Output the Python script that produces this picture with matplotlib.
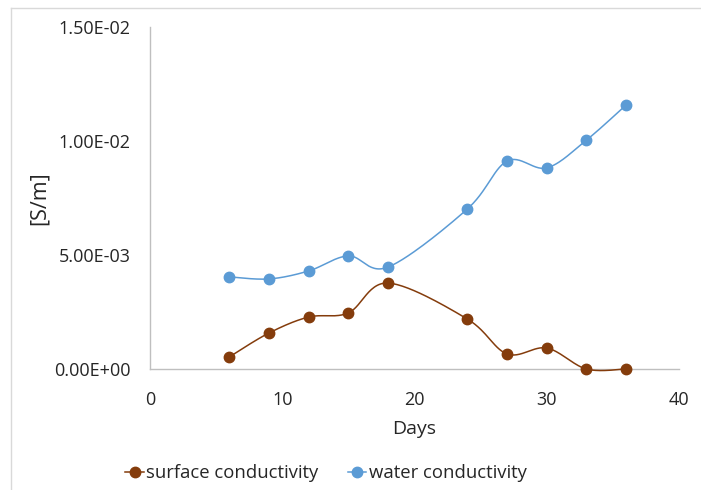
import numpy as np
import matplotlib
matplotlib.use("Agg")
import matplotlib.pyplot as plt
from matplotlib.lines import Line2D
from matplotlib.ticker import FixedLocator

days = [6, 9, 12, 15, 18, 24, 27, 30, 33, 36]
surface_conductivity = [0.00053, 0.00158, 0.00228, 0.00246, 0.00377, 0.00219, 0.00066, 0.00092, 0.0, 0.0]
water_conductivity = [0.00404, 0.00395, 0.00430, 0.00496, 0.00447, 0.00702, 0.00912, 0.00882, 0.01004, 0.01158]
x_ticks = [0, 10, 20, 30, 40]
y_ticks = [0.0, 0.005, 0.010, 0.015]
y_tick_labels = ["0.00E+00", "5.00E-03", "1.00E-02", "1.50E-02"]

plt.rcParams['font.family'] = ['Open Sans', 'DejaVu Sans']

def smooth(xs, ys, n=30):
    """Excel-style smoothed (Catmull-Rom Bezier) curve through the points."""
    P = np.column_stack([xs, ys]).astype(float)
    m = len(P)
    out = []
    for i in range(m - 1):
        p0 = P[i - 1] if i > 0 else P[i]
        p1 = P[i]
        p2 = P[i + 1]
        p3 = P[i + 2] if i + 2 < m else P[i + 1]
        c1 = p1 + (p2 - p0) / 6.0
        c2 = p2 - (p3 - p1) / 6.0
        t = np.linspace(0, 1, n)[:, None]
        seg = ((1 - t) ** 3) * p1 + 3 * ((1 - t) ** 2) * t * c1 + 3 * (1 - t) * t ** 2 * c2 + t ** 3 * p2
        out.append(seg if i == 0 else seg[1:])
    s = np.vstack(out)
    return s[:, 0], s[:, 1]

fig = plt.figure(figsize=(7.01, 4.90), dpi=100)
# chart-area border (only left and top edges visible in the crop)
fig.add_artist(Line2D([10.5 / 701, 10.5 / 701], [0, 1 - 8 / 490], transform=fig.transFigure,
                      color="#d9d9d9", lw=1.0))
fig.add_artist(Line2D([10.5 / 701, 1], [1 - 8 / 490, 1 - 8 / 490], transform=fig.transFigure,
                      color="#d9d9d9", lw=1.0))
ax = fig.add_axes([150 / 701, 121 / 490, 529 / 701, 342 / 490])

brown = "#843C0C"
blue = "#5B9BD5"

sx, sy = smooth(days, surface_conductivity)
ax.plot(sx, sy, color=brown, lw=1.1, zorder=3, clip_on=False)
ax.plot(days, surface_conductivity, 'o', color=brown, ms=7.5, zorder=4, clip_on=False)
wx, wy = smooth(days, water_conductivity)
ax.plot(wx, wy, color=blue, lw=1.1, zorder=3, clip_on=False)
ax.plot(days, water_conductivity, 'o', color=blue, ms=7.5, zorder=4, clip_on=False)

h1 = Line2D([], [], marker='o', color=brown, lw=1.1, ms=7.5, label="surface conductivity")
h2 = Line2D([], [], marker='o', color=blue, lw=1.1, ms=7.5, label="water conductivity")

ax.set_xlim(0, 40)
ax.set_ylim(0, 0.015)
ax.xaxis.set_major_locator(FixedLocator(x_ticks))
ax.yaxis.set_major_locator(FixedLocator(y_ticks))
ax.set_yticklabels(y_tick_labels)
ax.tick_params(axis='both', length=0, labelsize=13, labelcolor="#262626")
ax.tick_params(axis='x', pad=16)
ax.tick_params(axis='y', pad=14)
for s in ['top', 'right']:
    ax.spines[s].set_visible(False)
for s in ['left', 'bottom']:
    ax.spines[s].set_color("#bfbfbf")
    ax.spines[s].set_linewidth(1.0)
ax.set_xlabel("Days", fontsize=14, color="#262626", labelpad=8)
ax.set_ylabel("[S/m]", fontsize=15.5, color="#262626", labelpad=3)

fig.legend(handles=[h1, h2], loc='center', bbox_to_anchor=(326 / 701, 17 / 490), ncol=2,
           frameon=False, fontsize=13.3, handlelength=1.0, handletextpad=0.12, columnspacing=1.6,
           labelcolor="#262626", borderaxespad=0, borderpad=0)

fig.savefig("out.png", dpi=100)
